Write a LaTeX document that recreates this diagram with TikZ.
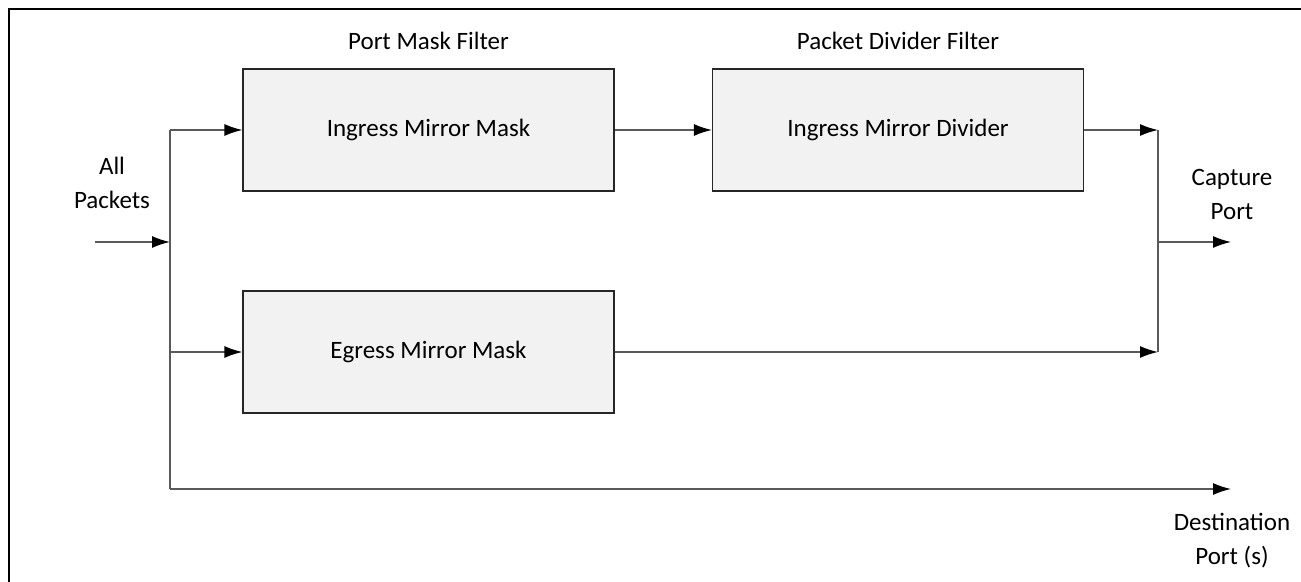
\documentclass[tikz,border=0pt]{standalone}
\usepackage{fontspec}
\setmainfont{Carlito}
\usetikzlibrary{arrows.meta}
\begin{document}
\begin{tikzpicture}[x=0.5pt,y=-0.5pt,
    filterbox/.style={draw=black!85,line width=0.6pt,fill=black!5,minimum width=185.5pt,minimum height=61pt,inner sep=0pt,font=\fontsize{12.5}{17}\selectfont},
    wire/.style={draw=black!65,line width=0.7pt},
    arr/.style={wire,-{Latex[length=9pt,width=6pt,color=black]}},
    lbl/.style={align=center,font=\fontsize{12.5}{17}\selectfont}]
    \useasboundingbox (0,0) rectangle (1301,582);
    \draw [line width=1pt] (9,600) -- (9,9) -- (1320,9);
    \node [filterbox] (ingmask) at (428.5,130) {Ingress Mirror Mask};
    \node [filterbox] (ingdiv) at (898,130) {Ingress Mirror Divider};
    \node [filterbox] (egmask) at (428.5,352) {Egress Mirror Mask};
    \node [lbl] (maskfilter) at (428.5,41) {Port Mask Filter};
    \node [lbl] (divfilter) at (898,41) {Packet Divider Filter};
    \node [lbl] (allpkts) at (112,183) {All\\Packets};
    \node [lbl] (capport) at (1232,194) {Capture\\Port};
    \node [lbl] (destport) at (1232,541) {Destination\\Port (s)};
    \coordinate (in) at (95,242);
    \coordinate (split) at (170,242);
    \coordinate (st) at (170,130);
    \coordinate (sm) at (170,352);
    \coordinate (sb) at (170,489);
    \coordinate (jt) at (1158,130);
    \coordinate (jm) at (1158,242);
    \coordinate (jb) at (1158,352);
    \coordinate (out) at (1231,242);
    \coordinate (dest) at (1231,489);
    \draw [arr] (in) -- (split);
    \draw [wire] (st) -- (sb);
    \draw [arr] (st) -- (ingmask);
    \draw [arr] (ingmask) -- (ingdiv);
    \draw [arr] (ingdiv) -- (jt);
    \draw [arr] (sm) -- (egmask);
    \draw [arr] (egmask) -- (jb);
    \draw [wire] (jt) -- (jb);
    \draw [arr] (jm) -- (out);
    \draw [arr] (sb) -- (dest);
\end{tikzpicture}
\end{document}
